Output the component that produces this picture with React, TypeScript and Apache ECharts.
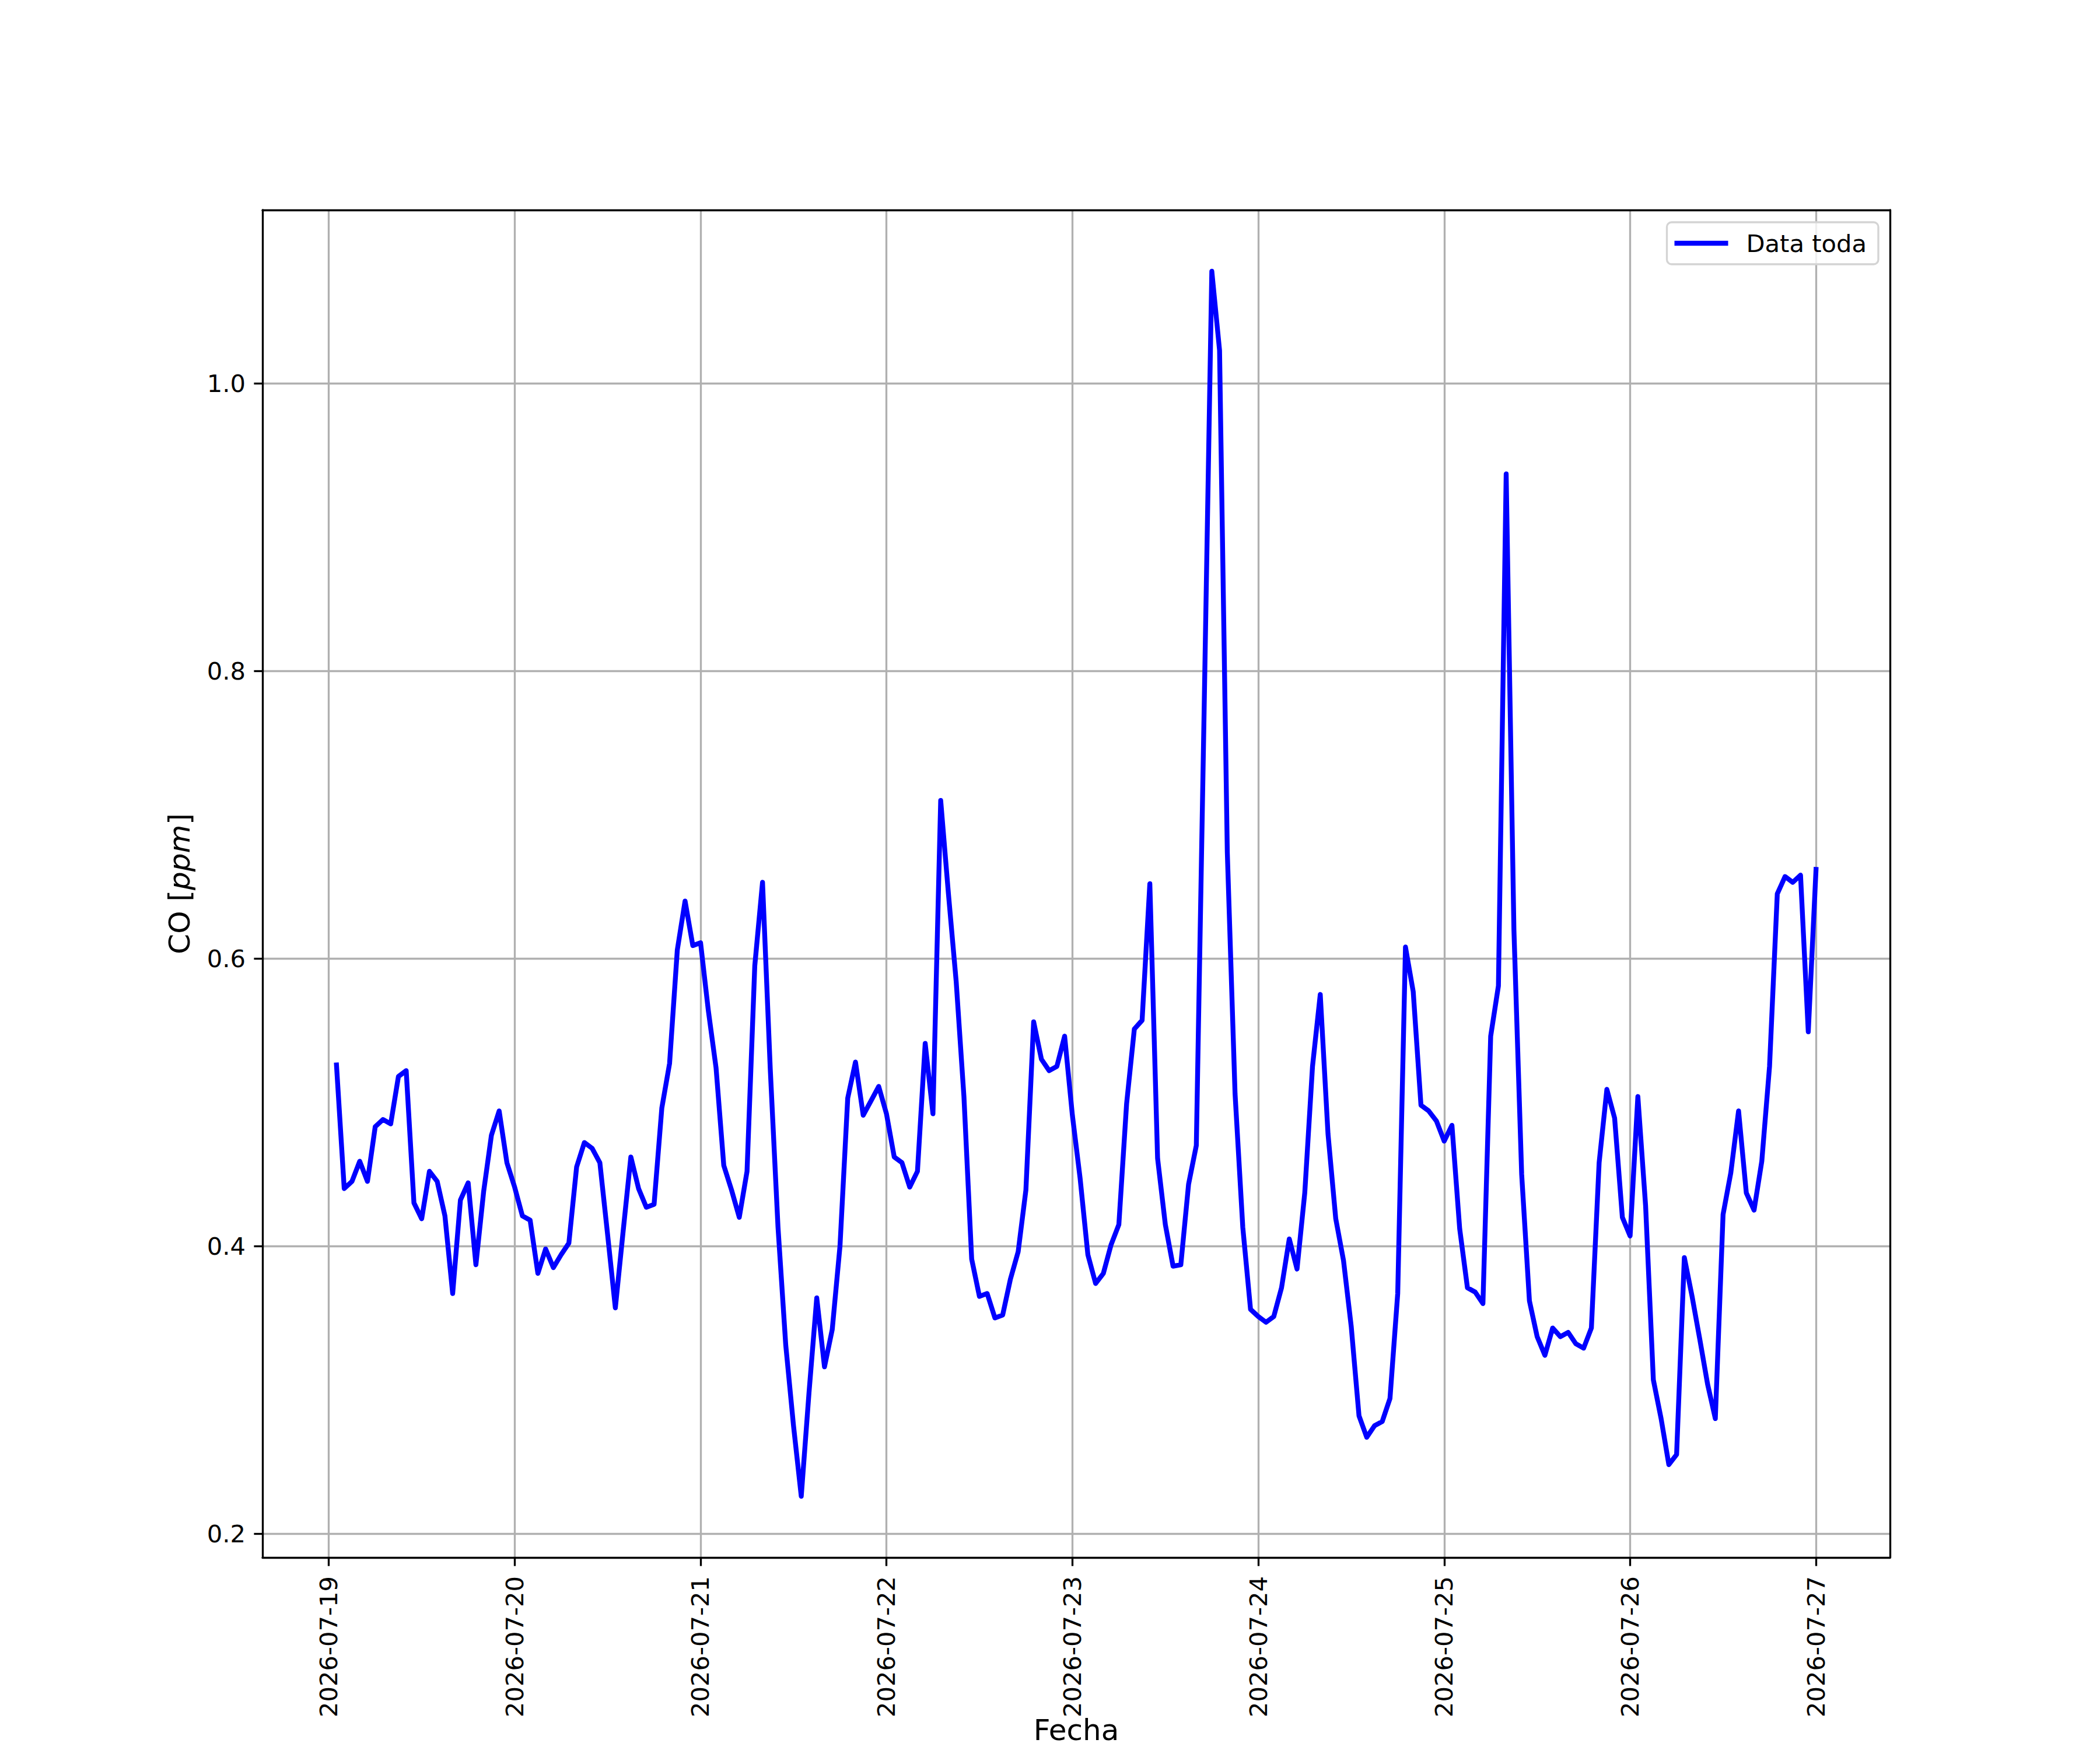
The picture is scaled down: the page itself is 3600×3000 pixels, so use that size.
import React, { useEffect, useRef } from "react";
import * as echarts from "echarts";

// Tick labels (one per day, at midnight)
const dayLabels = [
  "2026-07-19", "2026-07-20", "2026-07-21", "2026-07-22", "2026-07-23",
  "2026-07-24", "2026-07-25", "2026-07-26", "2026-07-27",
];
const yTickValues = [0.2, 0.4, 0.6, 0.8, 1.0];

// Hourly CO values (ppm), hour 01:00 .. 24:00 of each day
const day19 = [0.526, 0.440, 0.445, 0.459, 0.445, 0.483, 0.488, 0.485, 0.518, 0.522, 0.430, 0.419,
  0.452, 0.445, 0.421, 0.367, 0.432, 0.444, 0.387, 0.438, 0.477, 0.494, 0.458, 0.441];
const day20 = [0.421, 0.418, 0.381, 0.398, 0.385, 0.394, 0.402, 0.455, 0.472, 0.468, 0.458, 0.408,
  0.357, 0.410, 0.462, 0.440, 0.427, 0.429, 0.496, 0.527, 0.606, 0.640, 0.609, 0.611];
const day21 = [0.564, 0.524, 0.456, 0.439, 0.420, 0.452, 0.595, 0.653, 0.523, 0.413, 0.331, 0.275,
  0.226, 0.298, 0.364, 0.316, 0.342, 0.400, 0.503, 0.528, 0.491, 0.501, 0.511, 0.492];
const day22 = [0.462, 0.458, 0.441, 0.452, 0.541, 0.492, 0.710, 0.645, 0.584, 0.504, 0.391, 0.365,
  0.367, 0.350, 0.352, 0.377, 0.396, 0.439, 0.556, 0.530, 0.522, 0.525, 0.546, 0.491];
const day23 = [0.447, 0.394, 0.374, 0.381, 0.401, 0.415, 0.499, 0.551, 0.557, 0.652, 0.461, 0.415,
  0.386, 0.387, 0.443, 0.470, 0.770, 1.078, 1.023, 0.674, 0.506, 0.413, 0.356, 0.351];
const day24 = [0.347, 0.351, 0.371, 0.405, 0.384, 0.437, 0.525, 0.575, 0.478, 0.419, 0.390, 0.344,
  0.282, 0.267, 0.275, 0.278, 0.294, 0.367, 0.608, 0.577, 0.498, 0.494, 0.487, 0.473];
const day25 = [0.484, 0.412, 0.371, 0.368, 0.360, 0.546, 0.581, 0.937, 0.620, 0.450, 0.362, 0.337,
  0.324, 0.343, 0.337, 0.340, 0.332, 0.329, 0.343, 0.458, 0.509, 0.489, 0.420, 0.407];
const day26 = [0.504, 0.428, 0.307, 0.280, 0.248, 0.255, 0.392, 0.365, 0.335, 0.304, 0.280, 0.422,
  0.451, 0.494, 0.437, 0.425, 0.459, 0.525, 0.645, 0.657, 0.653, 0.658, 0.549, 0.662];

const coValues = [...day19, ...day20, ...day21, ...day22, ...day23, ...day24, ...day25, ...day26];
const seriesName = "Data toda";
const xTitle = "Fecha";

const FONT = "DejaVu Sans";
const FS = 41.67;
const FS_TITLE = 50;
const LW = 3.33;

export default function App() {
  const ref = useRef<HTMLDivElement>(null);

  useEffect(() => {
    const chart = echarts.init(ref.current as HTMLDivElement, null, { renderer: "svg" });

    // x in days since 2026-07-19 00:00
    const pts = coValues.map((v, i) => [(i + 1) / 24, v]);
    const xs = pts.map((p) => p[0]);
    const xLo = Math.min(...xs);
    const xHi = Math.max(...xs);
    const xm = (xHi - xLo) * 0.05;
    const yLo = Math.min(...coValues);
    const yHi = Math.max(...coValues);
    const ym = (yHi - yLo) * 0.05;
    const xMin = xLo - xm;
    const xMax = xHi + xm;
    const yMin = yLo - ym;
    const yMax = yHi + ym;
    const dayTicks = dayLabels.map((_, i) => i);

    const spine = { show: true, onZero: false, lineStyle: { color: "#000", width: LW } };

    const option: any = {
      animation: false,
      backgroundColor: "#ffffff",
      grid: { left: 450, top: 360, width: 2790, height: 2310, containLabel: false },
      legend: {
        data: [seriesName],
        right: 380,
        top: 381,
        icon: "rect",
        itemWidth: 92,
        itemHeight: 8.33,
        padding: [15, 20, 15, 13],
        borderColor: "#d4d4d4",
        borderWidth: LW,
        borderRadius: 8,
        backgroundColor: "rgba(255,255,255,0.8)",
        selectedMode: false,
        textStyle: { fontFamily: FONT, fontSize: FS, color: "#000", padding: [0, 0, 0, 26] },
      },
      xAxis: [
        {
          type: "value",
          min: xMin,
          max: xMax,
          z: 10,
          axisLine: spine,
          axisTick: {
            show: true,
            inside: false,
            length: 14.6,
            customValues: dayTicks,
            lineStyle: { color: "#000", width: LW },
          },
          axisLabel: {
            show: true,
            customValues: dayTicks,
            formatter: (v: number) => dayLabels[Math.round(v)] ?? "",
            rotate: 90,
            margin: 32,
            fontFamily: FONT,
            fontSize: FS,
            color: "#000",
          },
          splitLine: { show: false },
        },
        {
          type: "value",
          position: "top",
          min: xMin,
          max: xMax,
          z: 10,
          axisLine: spine,
          axisTick: { show: false },
          axisLabel: { show: false },
          splitLine: { show: false },
        },
      ],
      yAxis: [
        {
          type: "value",
          min: yMin,
          max: yMax,
          z: 10,
          axisLine: spine,
          axisTick: {
            show: true,
            inside: false,
            length: 14.6,
            customValues: yTickValues,
            lineStyle: { color: "#000", width: LW },
          },
          axisLabel: {
            show: true,
            customValues: yTickValues,
            formatter: (v: number) => v.toFixed(1),
            margin: 29,
            fontFamily: FONT,
            fontSize: FS,
            color: "#000",
          },
          splitLine: { show: false },
        },
        {
          type: "value",
          position: "right",
          min: yMin,
          max: yMax,
          z: 10,
          axisLine: spine,
          axisTick: { show: false },
          axisLabel: { show: false },
          splitLine: { show: false },
        },
      ],
      graphic: [
        {
          type: "text",
          x: 1845,
          y: 2966,
          style: {
            text: xTitle,
            fontFamily: FONT,
            fontSize: FS_TITLE,
            fill: "#000",
            align: "center",
            verticalAlign: "middle",
          },
        },
        {
          type: "text",
          x: 308,
          y: 1515,
          rotation: Math.PI / 2,
          style: {
            text: "CO [{i|ppm}]",
            fontFamily: FONT,
            fontSize: FS_TITLE,
            fill: "#000",
            align: "center",
            verticalAlign: "middle",
            rich: {
              i: { fontFamily: FONT, fontSize: FS_TITLE, fontStyle: "italic", fill: "#000" },
            },
          },
        },
      ],
      series: [
        {
          name: "grid",
          type: "line",
          data: [],
          z: 1,
          silent: true,
          markLine: {
            z: 1,
            silent: true,
            animation: false,
            symbol: ["none", "none"],
            label: { show: false },
            lineStyle: { color: "#b0b0b0", width: LW, type: "solid" },
            emphasis: { disabled: true },
            data: [
              ...dayTicks.map((d) => ({ xAxis: d })),
              ...yTickValues.map((v) => ({ yAxis: v })),
            ],
          },
        },
        {
          name: seriesName,
          type: "line",
          data: pts,
          z: 3,
          symbol: "none",
          showSymbol: false,
          color: "#0000ff",
          lineStyle: { color: "#0000ff", width: 8.33, join: "round", cap: "square" },
        },
      ],
    };

    chart.setOption(option);
    return () => chart.dispose();
  }, []);

  return (
    <div
      ref={ref}
      style={{ position: "absolute", left: 0, top: 0, width: 3600, height: 3000, background: "#fff" }}
    />
  );
}
